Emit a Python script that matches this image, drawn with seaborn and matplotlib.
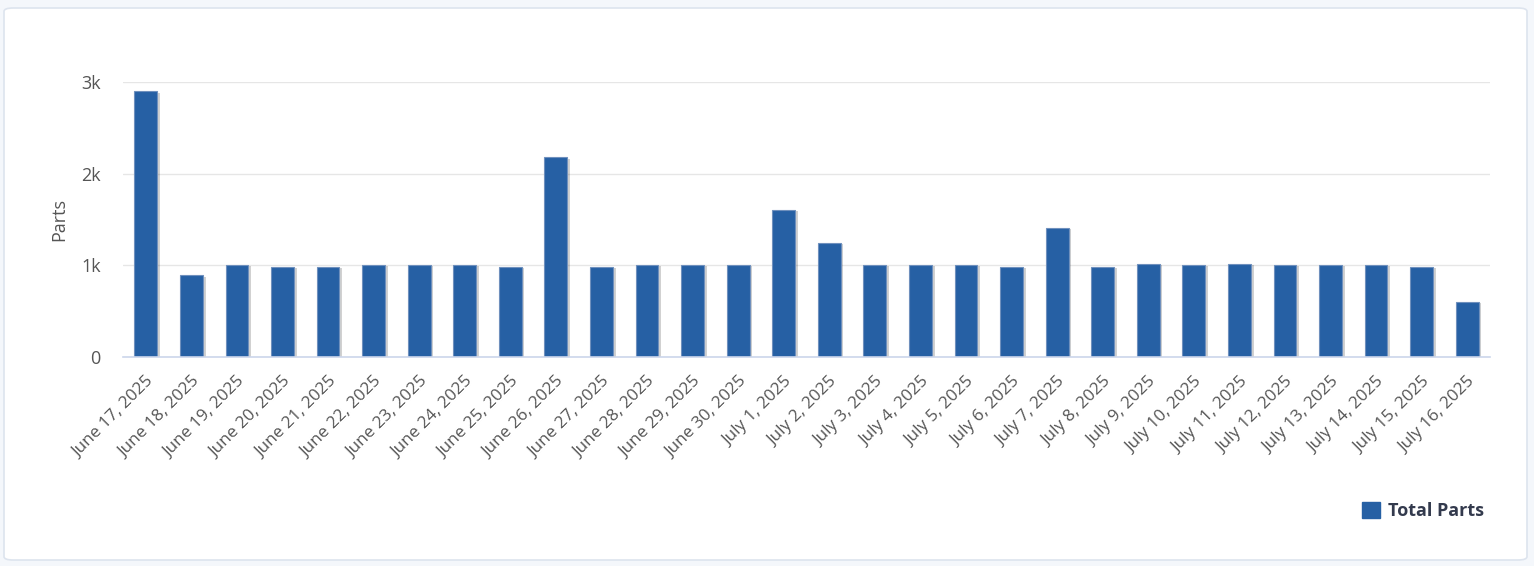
import pandas as pd
import seaborn as sns
import matplotlib.pyplot as plt
import matplotlib.patheffects as pe
from matplotlib.patches import FancyBboxPatch, Patch

# data
dates = [
    "June 17, 2025", "June 18, 2025", "June 19, 2025", "June 20, 2025",
    "June 21, 2025", "June 22, 2025", "June 23, 2025", "June 24, 2025",
    "June 25, 2025", "June 26, 2025", "June 27, 2025", "June 28, 2025",
    "June 29, 2025", "June 30, 2025", "July 1, 2025", "July 2, 2025",
    "July 3, 2025", "July 4, 2025", "July 5, 2025", "July 6, 2025",
    "July 7, 2025", "July 8, 2025", "July 9, 2025", "July 10, 2025",
    "July 11, 2025", "July 12, 2025", "July 13, 2025", "July 14, 2025",
    "July 15, 2025", "July 16, 2025",
]
total_parts = [
    2900, 890, 1003, 985, 985, 1003, 1003, 1003, 985, 2180,
    985, 1003, 1003, 1003, 1605, 1245, 1003, 1003, 1003, 985,
    1410, 985, 1020, 1003, 1020, 1003, 1003, 1003, 985, 605,
]
y_ticks = [0, 1000, 2000, 3000]
y_tick_labels = ["0", "1k", "2k", "3k"]

data = pd.DataFrame({"Date": dates, "Total Parts": total_parts})

sns.set_style("white")
plt.rcParams["font.family"] = ["Open Sans", "DejaVu Sans"]

W, H = 1534, 566
fig = plt.figure(figsize=(W / 100, H / 100), dpi=100)
fig.patch.set_facecolor("#f4f7fb")

# white card behind the chart
card = FancyBboxPatch((4 / W, 6 / H), 1523 / W, 552 / H,
                      boxstyle="round,pad=0,rounding_size=0.006",
                      transform=fig.transFigure, facecolor="white",
                      edgecolor="#dde4ee", linewidth=1.2, zorder=-10)
fig.patches.append(card)

ax = fig.add_axes([123 / W, 1 - 357 / H, 1367 / W, 275 / H])
ax.set_facecolor("none")

bar_color = "#2660a4"
p = sns.barplot(data=data, x="Date", y="Total Parts", color=bar_color,
                width=0.5, saturation=1, ax=ax,
                edgecolor="#6f90bd", linewidth=0.8, zorder=3)

for bar in ax.patches:
    bar.set_path_effects([pe.SimplePatchShadow(offset=(2, -1), shadow_rgbFace="#000000", alpha=0.18),
                          pe.Normal()])

ax.set_xlim(-0.5, len(dates) - 0.5)
ax.set_ylim(0, 3000)
ax.set_yticks(y_ticks)
ax.set_yticklabels(y_tick_labels, fontsize=13, color="#555555")
ax.yaxis.grid(True, color="#e6e6e6", linewidth=1, zorder=0)
ax.set_axisbelow(True)

for s in ["top", "right", "left"]:
    ax.spines[s].set_visible(False)
ax.spines["bottom"].set_color("#ccd6eb")
ax.spines["bottom"].set_linewidth(1.2)
ax.spines["bottom"].set_zorder(4)

ax.tick_params(axis="both", length=0)
ax.tick_params(axis="y", pad=16)
ax.tick_params(axis="x", pad=12)
plt.setp(ax.get_xticklabels(), rotation=45, ha="right", rotation_mode="anchor",
         fontsize=12.3, color="#555555")

ax.set_xlabel("")
ax.set_ylabel("Parts", fontsize=13, color="#555555", labelpad=9)

ax.legend(handles=[Patch(facecolor=bar_color, edgecolor=bar_color, label="Total Parts")],
          loc="center right", bbox_to_anchor=(1500 / W, 1 - 511 / H),
          bbox_transform=fig.transFigure, frameon=False,
          prop={"size": 13, "weight": "bold"}, labelcolor="#333a4d",
          handlelength=1.0, handleheight=1.0, handletextpad=0.45)

fig.savefig("out.png", dpi=100, facecolor=fig.get_facecolor())
